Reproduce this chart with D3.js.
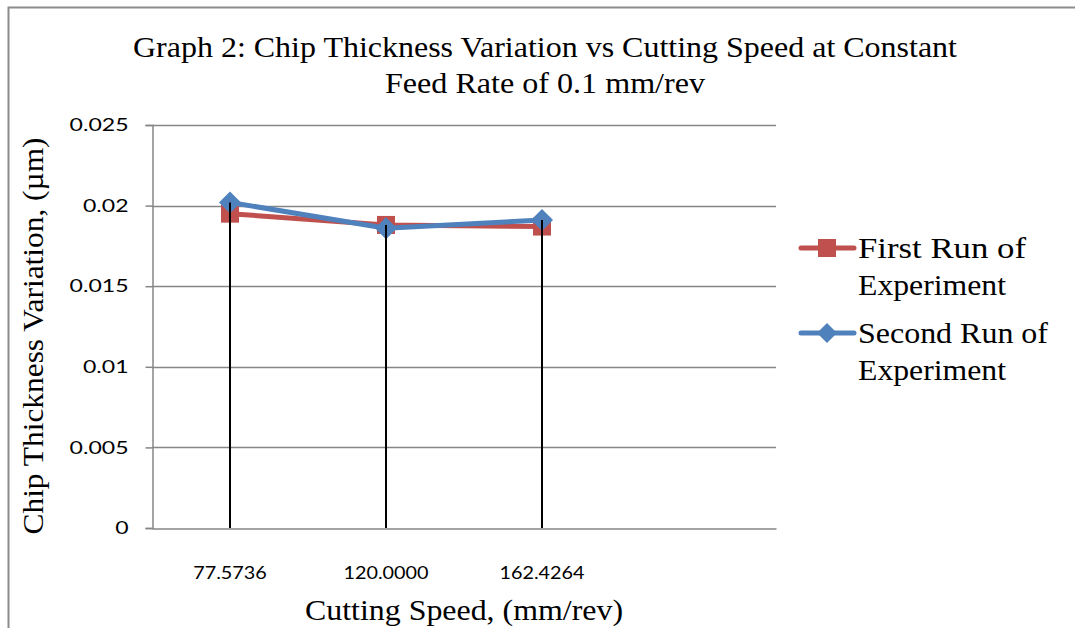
<!DOCTYPE html>
<html>
<head>
<meta charset="utf-8">
<script src="https://cdn.jsdelivr.net/npm/d3@7"></script>
<style>
  body { margin: 0; background: #fff; }
  svg { display: block; }
</style>
</head>
<body>
<svg id="chart" width="1075" height="628"></svg>
<script>
// chart data
const categories = ["77.5736", "120.0000", "162.4264", ""];
const firstRun = [0.0195, 0.0188, 0.0187];
const secondRun = [0.0202, 0.0186, 0.0191];
const yTicks = [0, 0.005, 0.01, 0.015, 0.02, 0.025];

const titleLines = ["Graph 2: Chip Thickness Variation vs Cutting Speed at Constant", "Feed Rate of 0.1 mm/rev"];
const yLabel = "Chip Thickness Variation, (\u00b5m)";
const xLabel = "Cutting Speed, (mm/rev)";

const red = "#C0504D";
const blue = "#4F81BD";
const gridColor = "#868686";
const serif = "'Liberation Serif'";
const sans = "Lato, 'Open Sans', sans-serif";

const svg = d3.select("#chart");
const plot = { left: 152, right: 776, top: 125, bottom: 528 };

// outer chart border (cropped at right and bottom)
svg.append("path")
	.attr("d", "M8.5,628 L8.5,7.5 L1075,7.5")
	.attr("fill", "none")
	.attr("stroke", "#8c8c8c")
	.attr("stroke-width", 2);

const x = d3.scaleBand().domain(categories).range([plot.left, plot.right]);
const y = d3.scaleLinear().domain([0, 0.025]).range([plot.bottom, plot.top]);

// squeeze a text node to a target width
function fitWidth(sel, width) {
	sel.attr("textLength", width).attr("lengthAdjust", "spacingAndGlyphs");
}
// stretch text nodes by a factor of their natural width
function stretch(sel, factor) {
	sel.each(function () {
		const len = this.getComputedTextLength();
		if (len > 0) {
			d3.select(this).attr("textLength", len * factor).attr("lengthAdjust", "spacingAndGlyphs");
		}
	});
}

// gridlines
svg.append("g")
	.selectAll("line")
	.data(yTicks.filter((d) => d > 0))
	.enter()
	.append("line")
	.attr("x1", plot.left)
	.attr("x2", plot.right)
	.attr("y1", (d) => Math.round(y(d)) + 0.5)
	.attr("y2", (d) => Math.round(y(d)) + 0.5)
	.attr("stroke", gridColor)
	.attr("stroke-width", 1.5);

// y axis
const yAxis = d3.axisLeft(y)
	.tickValues(yTicks)
	.tickSize(7)
	.tickPadding(17)
	.tickFormat((d) => (d === 0 ? "0" : String(+d.toFixed(3))));
const yg = svg.append("g")
	.attr("transform", `translate(${plot.left + 0.5},0)`)
	.call(yAxis);
yg.select(".domain").attr("stroke", gridColor).attr("stroke-width", 1.5);
yg.selectAll(".tick line").attr("stroke", gridColor).attr("stroke-width", 1.5);
yg.selectAll(".tick text")
	.attr("font-family", sans)
	.attr("font-size", 18)
	.attr("fill", "#000")
	.call(stretch, 1.28);

// x axis
const xAxis = d3.axisBottom(x).tickSize(0).tickPadding(38);
const xg = svg.append("g")
	.attr("transform", `translate(0,${plot.bottom + 0.5})`)
	.call(xAxis);
xg.select(".domain").attr("stroke", gridColor).attr("stroke-width", 1.5);
xg.selectAll(".tick text")
	.attr("font-family", sans)
	.attr("font-size", 18)
	.attr("fill", "#000")
	.call(stretch, 1.1);

// drop lines from the highest point down to the axis
const cx = (i) => x(categories[i]) + x.bandwidth() / 2;
const dropTops = firstRun.map((d, i) => Math.max(d, secondRun[i]));
svg.append("g")
	.selectAll("line")
	.data(dropTops)
	.enter()
	.append("line")
	.attr("x1", (d, i) => cx(i))
	.attr("x2", (d, i) => cx(i))
	.attr("y1", (d) => y(d))
	.attr("y2", plot.bottom)
	.attr("stroke", "#000")
	.attr("stroke-width", 2);

const line = d3.line().x((d, i) => cx(i)).y((d) => y(d));

// first run: red with squares
svg.append("path")
	.datum(firstRun)
	.attr("d", line)
	.attr("fill", "none")
	.attr("stroke", red)
	.attr("stroke-width", 5)
	.attr("stroke-linejoin", "round");
svg.append("g")
	.selectAll("rect")
	.data(firstRun)
	.enter()
	.append("rect")
	.attr("x", (d, i) => cx(i) - 9)
	.attr("y", (d) => y(d) - 9)
	.attr("width", 18)
	.attr("height", 18)
	.attr("fill", red);

// second run: blue with diamonds
svg.append("path")
	.datum(secondRun)
	.attr("d", line)
	.attr("fill", "none")
	.attr("stroke", blue)
	.attr("stroke-width", 5)
	.attr("stroke-linejoin", "round");
const diamond = (s) => `M0,${-s} L${s},0 L0,${s} L${-s},0 Z`;
svg.append("g")
	.selectAll("path")
	.data(secondRun)
	.enter()
	.append("path")
	.attr("d", diamond(11))
	.attr("transform", (d, i) => `translate(${cx(i)},${y(d)})`)
	.attr("fill", blue);

// short pieces of drop line over the markers, as in the reference
svg.append("g")
	.selectAll("line")
	.data(dropTops)
	.enter()
	.append("line")
	.attr("x1", (d, i) => cx(i))
	.attr("x2", (d, i) => cx(i))
	.attr("y1", (d) => y(d))
	.attr("y2", (d) => y(d) + 30)
	.attr("stroke", "#000")
	.attr("stroke-width", 2);

// title
svg.append("g")
	.selectAll("text")
	.data(titleLines)
	.enter()
	.append("text")
	.attr("x", 545)
	.attr("y", (d, i) => 57 + i * 36)
	.attr("text-anchor", "middle")
	.attr("font-family", serif)
	.attr("font-size", 30)
	.attr("fill", "#000")
	.text((d) => d)
	.each(function (d, i) {
		fitWidth(d3.select(this), i === 0 ? 824 : 320);
	});

// axis titles
svg.append("text")
	.attr("transform", "translate(43,336) rotate(-90)")
	.attr("text-anchor", "middle")
	.attr("font-family", serif)
	.attr("font-size", 30)
	.attr("fill", "#000")
	.text(yLabel)
	.call(fitWidth, 397);

svg.append("text")
	.attr("x", 464)
	.attr("y", 620)
	.attr("text-anchor", "middle")
	.attr("font-family", serif)
	.attr("font-size", 30)
	.attr("fill", "#000")
	.text(xLabel)
	.call(fitWidth, 318);

// legend
const legendItems = [
	{ color: red, marker: "square", lines: ["First Run of", "Experiment"], y: 248 },
	{ color: blue, marker: "diamond", lines: ["Second Run of", "Experiment"], y: 333 }
];
const legendWidths = { "First Run of": 168, "Experiment": 148, "Second Run of": 190 };
const legend = svg.append("g");
legendItems.forEach((item) => {
	const g = legend.append("g");
	g.append("line")
		.attr("x1", 801)
		.attr("x2", 854)
		.attr("y1", item.y)
		.attr("y2", item.y)
		.attr("stroke", item.color)
		.attr("stroke-width", 5)
		.attr("stroke-linecap", "round");
	if (item.marker === "square") {
		g.append("rect")
			.attr("x", 818)
			.attr("y", item.y - 9)
			.attr("width", 18)
			.attr("height", 18)
			.attr("fill", item.color);
	} else {
		g.append("path")
			.attr("d", diamond(10))
			.attr("transform", `translate(827,${item.y})`)
			.attr("fill", item.color);
	}
	g.selectAll("text")
		.data(item.lines)
		.enter()
		.append("text")
		.attr("x", 858)
		.attr("y", (d, i) => item.y + 10 + i * 37)
		.attr("font-family", serif)
		.attr("font-size", 30)
		.attr("fill", "#000")
		.text((d) => d)
		.each(function (d) {
			fitWidth(d3.select(this), legendWidths[d]);
		});
});
</script>
</body>
</html>
